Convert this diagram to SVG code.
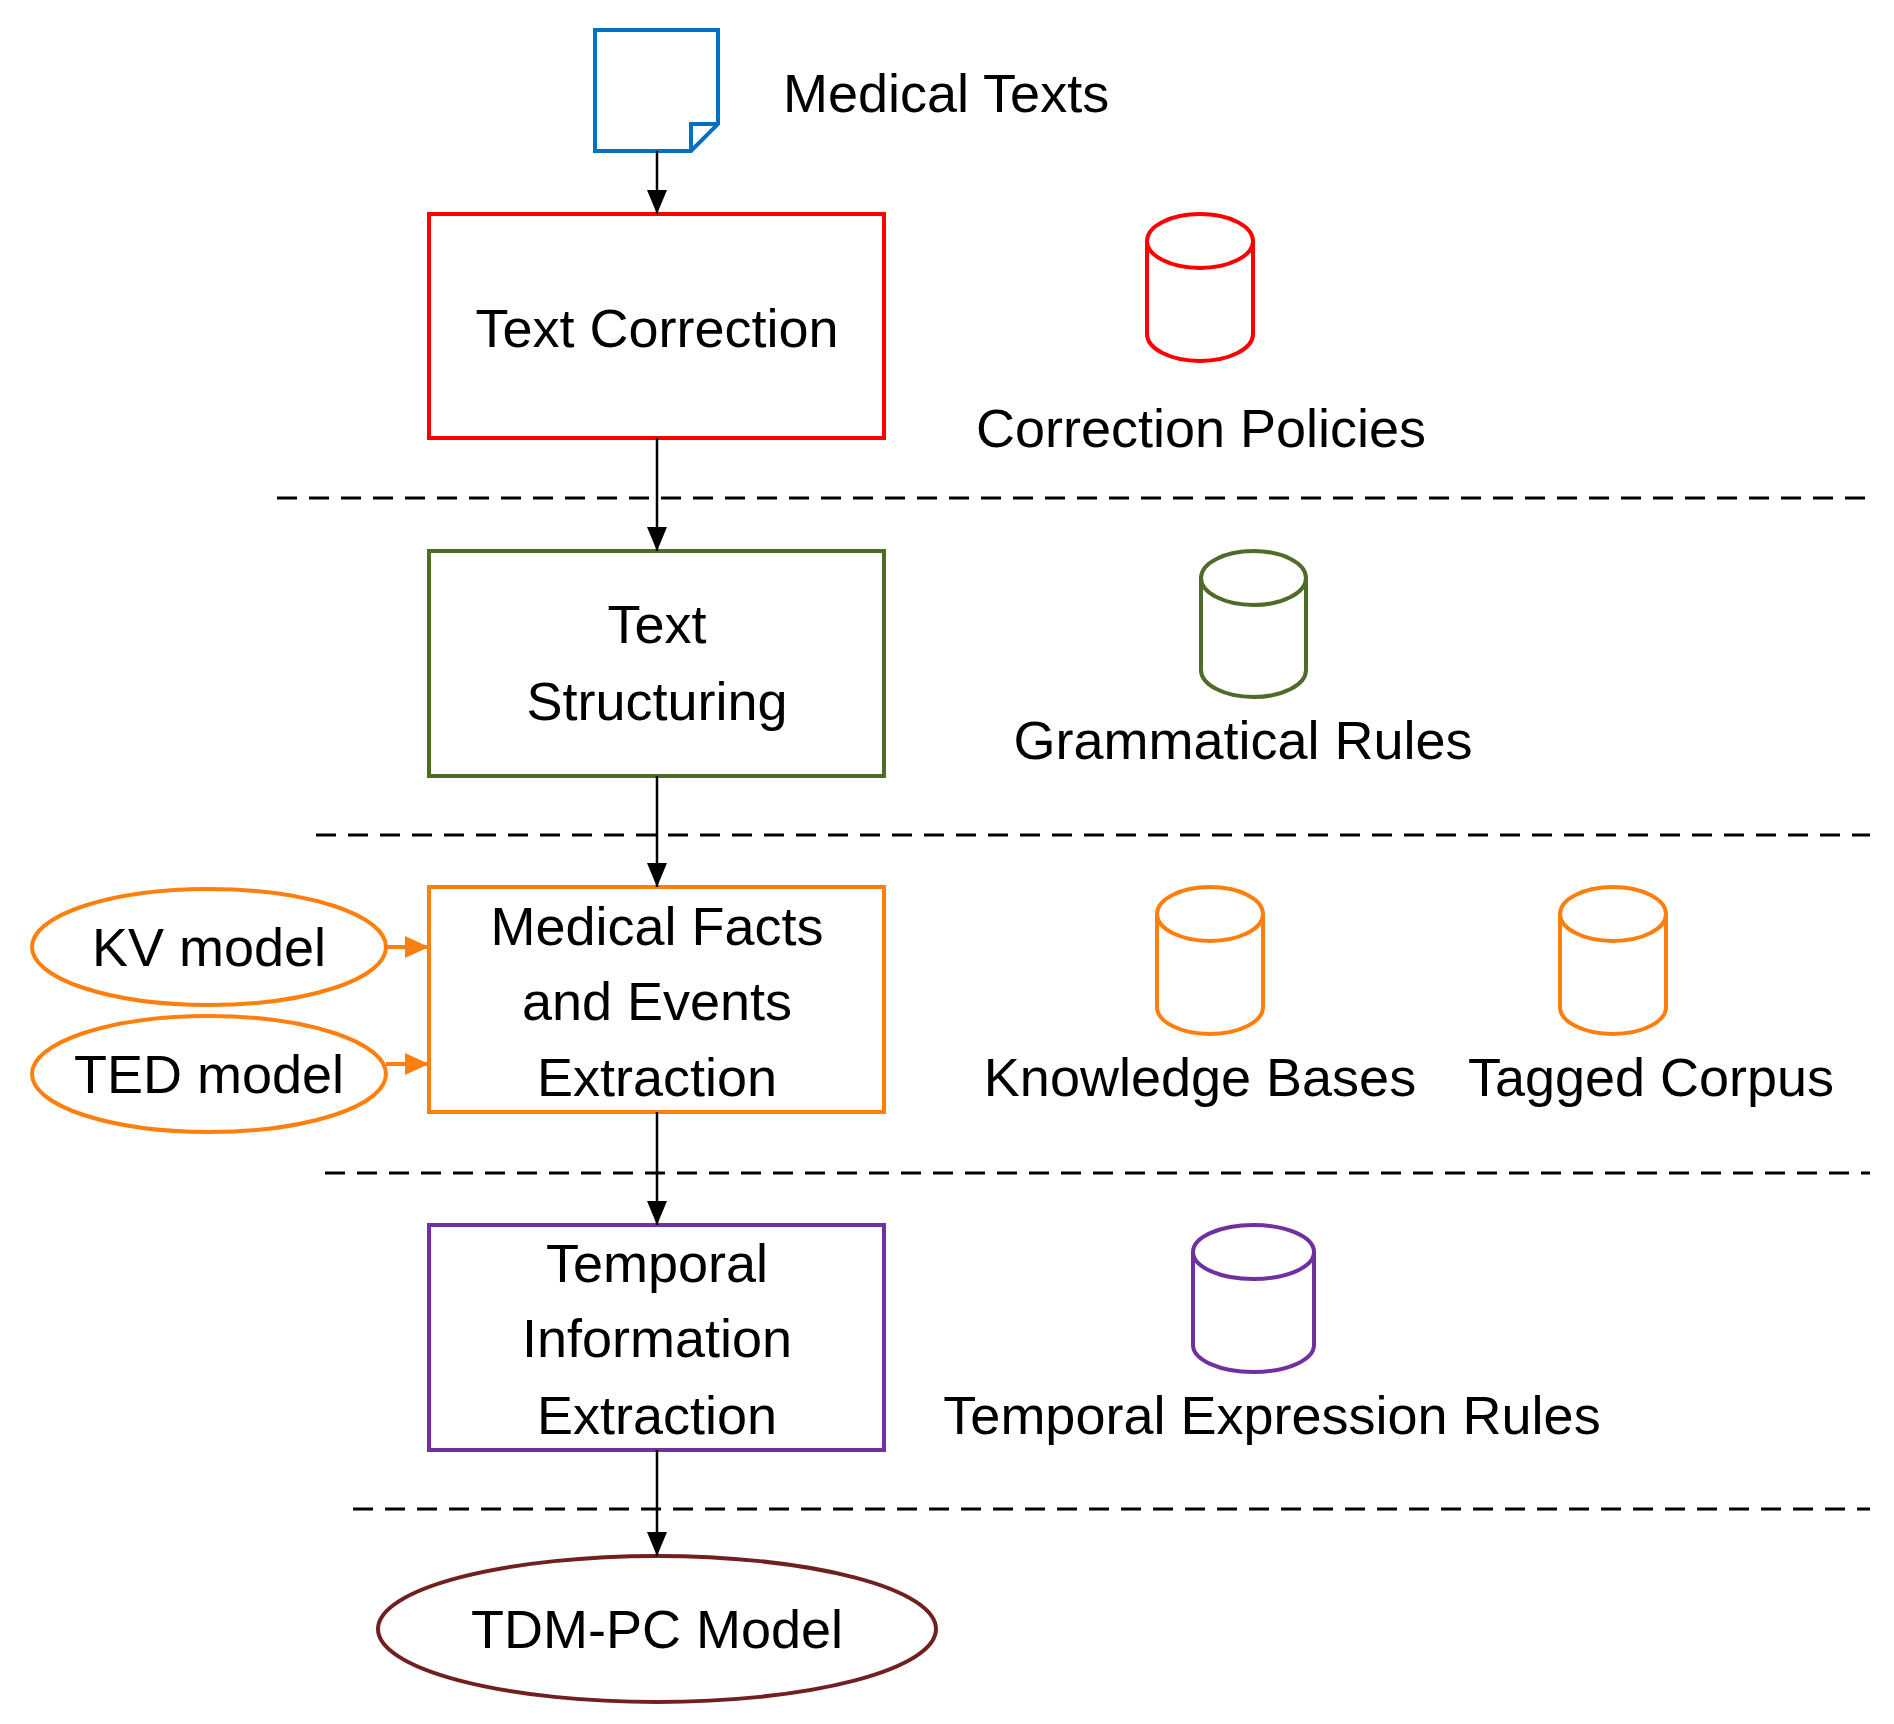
<svg xmlns="http://www.w3.org/2000/svg" width="1894" height="1724" viewBox="0 0 1894 1724">
<style>
text{font-family:"Liberation Sans",Arial,sans-serif;font-size:54px;fill:#000;text-anchor:middle}
.c{stroke-width:4;fill:none}
.d{stroke:#000;stroke-width:3;stroke-dasharray:20 12;fill:none}
.k{stroke:#000;stroke-width:2.5;fill:none}
</style>
<defs>
<marker id="a" viewBox="0 0 24 20" refX="24" refY="10" markerWidth="24" markerHeight="20" markerUnits="userSpaceOnUse" orient="auto"><path d="M0,0L24,10L0,20z" fill="#000"/></marker>
<marker id="ao" viewBox="0 0 24 22" refX="24" refY="11" markerWidth="24" markerHeight="22" markerUnits="userSpaceOnUse" orient="auto"><path d="M0,0L24,11L0,22z" fill="#FF7F0E"/></marker>
</defs>
<rect width="1894" height="1724" fill="#fff"/>
<g id="medical-texts">
<path d="M595,30H718V124L691,151H595Z" class="c" stroke="#0070C0"/>
<path d="M718,124H691V151" class="c" stroke="#0070C0" stroke-width="3"/>
<text x="783" y="112" style="text-anchor:start">Medical Texts</text>
</g>
<g id="text-correction">
<rect x="429" y="214" width="455" height="224" class="c" stroke="#FF0000"/>
<text x="657" y="347">Text Correction</text>
</g>
<g id="correction-policies">
<path d="M1147,241V334A53,27 0 0 0 1253,334V241A53,27 0 0 0 1147,241A53,27 0 0 0 1253,241" class="c" stroke="#FF0000"/>
<text x="1201" y="447">Correction Policies</text>
</g>
<g id="text-structuring">
<rect x="429" y="551" width="455" height="225" class="c" stroke="#4E6B2A"/>
<text x="657" y="643">Text</text>
<text x="657" y="720">Structuring</text>
</g>
<g id="grammatical-rules">
<path d="M1201,578V670A52.5,27 0 0 0 1306,670V578A52.5,27 0 0 0 1201,578A52.5,27 0 0 0 1306,578" class="c" stroke="#4E6B2A"/>
<text x="1243" y="759">Grammatical Rules</text>
</g>
<g id="medical-facts">
<rect x="429" y="887" width="455" height="225" class="c" stroke="#FF7F0E"/>
<text x="657" y="945">Medical Facts</text>
<text x="657" y="1020">and Events</text>
<text x="657" y="1096">Extraction</text>
</g>
<g id="kv-model">
<ellipse cx="209" cy="947" rx="177" ry="58" class="c" stroke="#FF7F0E"/>
<text x="209" y="966">KV model</text>
</g>
<g id="ted-model">
<ellipse cx="209" cy="1074" rx="177" ry="58" class="c" stroke="#FF7F0E"/>
<text x="209" y="1093">TED model</text>
</g>
<g id="knowledge-bases">
<path d="M1157,914V1007A53,27 0 0 0 1263,1007V914A53,27 0 0 0 1157,914A53,27 0 0 0 1263,914" class="c" stroke="#FF7F0E"/>
<text x="1200" y="1096">Knowledge Bases</text>
</g>
<g id="tagged-corpus">
<path d="M1560,914V1007A53,27 0 0 0 1666,1007V914A53,27 0 0 0 1560,914A53,27 0 0 0 1666,914" class="c" stroke="#FF7F0E"/>
<text x="1651" y="1096">Tagged Corpus</text>
</g>
<g id="temporal-info">
<rect x="429" y="1225" width="455" height="225" class="c" stroke="#7030A0"/>
<text x="657" y="1282">Temporal</text>
<text x="657" y="1357">Information</text>
<text x="657" y="1434">Extraction</text>
</g>
<g id="temporal-rules">
<path d="M1193,1252V1345A60.5,27 0 0 0 1314,1345V1252A60.5,27 0 0 0 1193,1252A60.5,27 0 0 0 1314,1252" class="c" stroke="#7030A0"/>
<text x="1272" y="1434">Temporal Expression Rules</text>
</g>
<g id="tdm-pc">
<ellipse cx="657" cy="1629" rx="279" ry="73" class="c" stroke="#702020"/>
<text x="657" y="1648">TDM-PC Model</text>
</g>
<g id="dividers">
<line x1="277" y1="498" x2="1870" y2="498" class="d"/>
<line x1="316" y1="835" x2="1870" y2="835" class="d"/>
<line x1="325" y1="1173" x2="1870" y2="1173" class="d"/>
<line x1="353" y1="1509" x2="1870" y2="1509" class="d"/>
</g>
<g id="connectors">
<line x1="657" y1="151" x2="657" y2="214" class="k" marker-end="url(#a)"/>
<line x1="657" y1="438" x2="657" y2="551" class="k" marker-end="url(#a)"/>
<line x1="657" y1="776" x2="657" y2="887" class="k" marker-end="url(#a)"/>
<line x1="657" y1="1112" x2="657" y2="1225" class="k" marker-end="url(#a)"/>
<line x1="657" y1="1450" x2="657" y2="1556" class="k" marker-end="url(#a)"/>
<line x1="386" y1="947" x2="429" y2="947" stroke="#FF7F0E" stroke-width="4" marker-end="url(#ao)"/>
<line x1="386" y1="1064" x2="429" y2="1064" stroke="#FF7F0E" stroke-width="4" marker-end="url(#ao)"/>
</g>
</svg>
